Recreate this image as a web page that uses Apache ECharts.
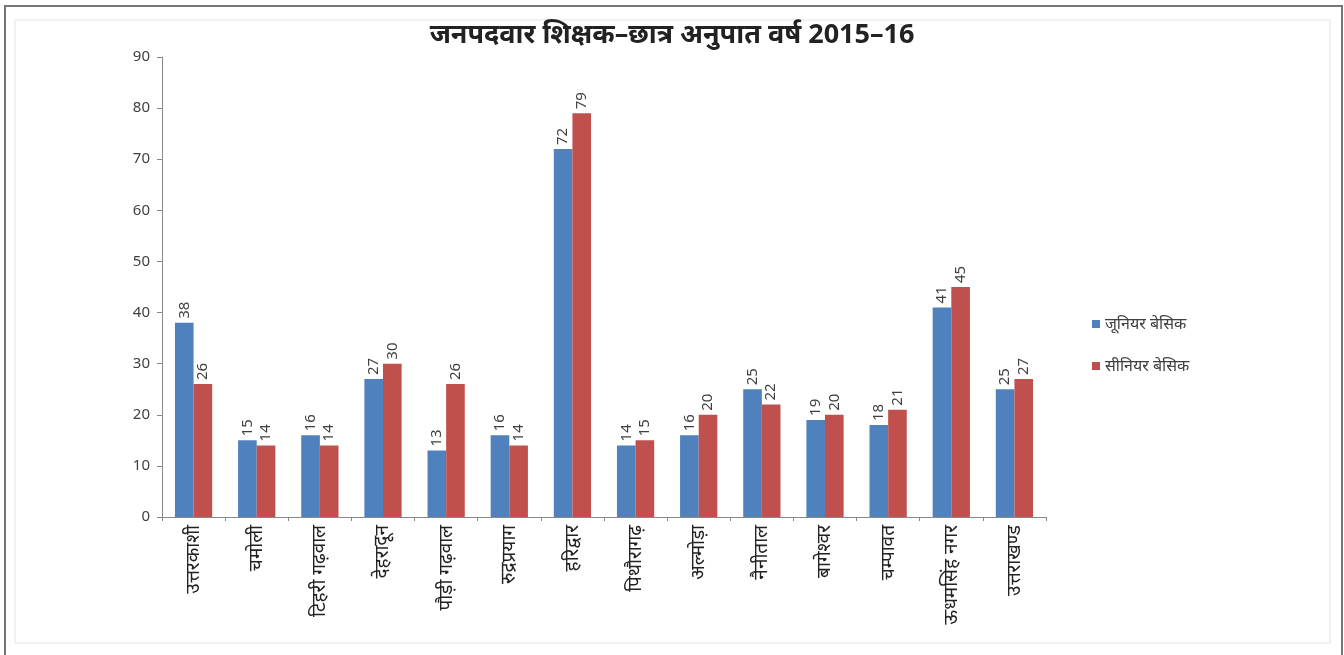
<!DOCTYPE html>
<html>
<head>
<meta charset="utf-8">
<script src="https://cdn.jsdelivr.net/npm/echarts@6/dist/echarts.min.js"></script>
<style>
html,body{margin:0;padding:0;background:#fff;}
#c{width:1344px;height:655px;}
</style>
</head>
<body>
<div id="c"></div>
<script>
const titleText = 'जनपदवार शिक्षक–छात्र अनुपात वर्ष 2015–16';
const categories = ['उत्तरकाशी','चमोली','टिहरी गढ़वाल','देहरादून','पौड़ी गढ़वाल','रुद्रप्रयाग','हरिद्वार','पिथौरागढ़','अल्मोड़ा','नैनीताल','बागेश्वर','चम्पावत','ऊधमसिंह नगर','उत्तराखण्ड'];
const juniorName = 'जूनियर बेसिक';
const seniorName = 'सीनियर बेसिक';
const juniorValues = [38,15,16,27,13,16,72,14,16,25,19,18,41,25];
const seniorValues = [26,14,14,30,26,14,79,15,20,22,20,21,45,27];

const font = "'Noto Sans', 'Noto Sans Devanagari', sans-serif";
const chart = echarts.init(document.getElementById('c'), null, {renderer:'canvas'});
const labelCfg = {
  show: true, position: 'top', rotate: 90, align: 'left', verticalAlign: 'middle',
  distance: 4, color: '#404040', fontSize: 15, fontFamily: font
};
chart.setOption({
  backgroundColor: '#fff',
  animation: false,
  graphic: [
    {type:'rect', shape:{x:5,y:6,width:1337,height:660}, style:{fill:'none', stroke:'#777', lineWidth:2}},
    {type:'rect', shape:{x:15,y:20,width:1315,height:623}, style:{fill:'none', stroke:'#e4e4e4', lineWidth:1}}
  ],
  title: {
    text: titleText, left: 'center', top: 17,
    textStyle: {fontSize: 27, fontWeight: 'bold', color: '#222', fontFamily: font}
  },
  legend: {
    orient: 'vertical', left: 1087, top: 311, itemGap: 26,
    itemWidth: 8, itemHeight: 8, icon: 'rect',
    textStyle: {fontSize: 16, color: '#404040', fontFamily: font},
    data: [juniorName, seniorName]
  },
  grid: {left: 162, right: 298, top: 57, bottom: 138, containLabel: false},
  xAxis: {
    type: 'category', data: categories,
    axisLine: {lineStyle: {color: '#888'}},
    axisTick: {show: true, alignWithLabel: false, length: 4, lineStyle:{color:'#888'}},
    axisLabel: {rotate: 90, interval: 0, color: '#222', fontSize: 19, fontFamily: font, margin: 8}
  },
  yAxis: {
    type: 'value', min: 0, max: 90, interval: 10,
    axisLine: {show: true, lineStyle: {color: '#888'}},
    axisTick: {show: true, length: 5, lineStyle:{color:'#888'}},
    splitLine: {show: false},
    axisLabel: {color: '#404040', fontSize: 15, fontFamily: font, margin: 12}
  },
  series: [
    {name: juniorName, type: 'bar', data: juniorValues, barGap: '0%', barCategoryGap: '41%',
     itemStyle: {color: '#4F81BD'}, label: labelCfg},
    {name: seniorName, type: 'bar', data: seniorValues, barGap: '0%', barCategoryGap: '41%',
     itemStyle: {color: '#C0504D'}, label: labelCfg}
  ]
});
</script>
</body>
</html>
